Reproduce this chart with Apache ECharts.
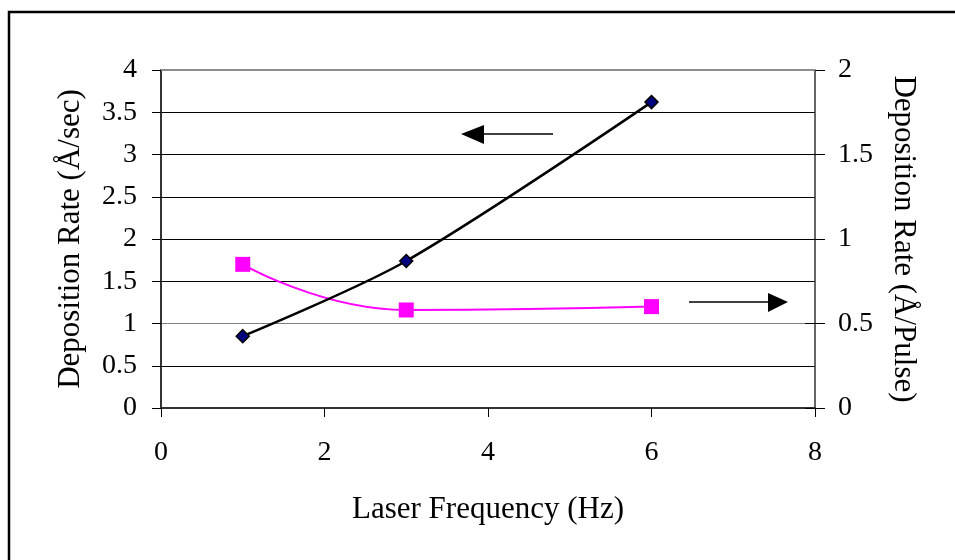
<!DOCTYPE html>
<html>
<head>
<meta charset="utf-8">
<script src="https://cdn.jsdelivr.net/npm/echarts@6/dist/echarts.min.js"></script>
<style>
  html, body { margin: 0; padding: 0; background: #fff; }
  #chart { width: 955px; height: 560px; }
</style>
</head>
<body>
<div id="chart"></div>
<script>
// Laser frequency (Hz) for each measurement
const frequency = [1, 3, 6];
// Deposition rate per second (left axis, Å/sec)
const ratePerSec = [0.85, 1.74, 3.62];
// Deposition rate per pulse (right axis, Å/Pulse)
const ratePerPulse = [0.85, 0.58, 0.6];

const FONT = '"Liberation Serif", "Times New Roman", serif';
const TICK_SIZE = 28;
const TITLE_SIZE = 31;
const chart = echarts.init(document.getElementById('chart'), null, { renderer: 'canvas' });

const leftGridColors = ['#000', '#000', '#808080', '#000', '#000', '#000', '#000', '#000', '#808080'];

chart.setOption({
  animation: false,
  backgroundColor: '#fff',
  grid: { left: 161, right: 140, top: 70, bottom: 152, containLabel: false },
  xAxis: {
    type: 'value', min: 0, max: 8, interval: 2,
    name: 'Laser Frequency (Hz)', nameLocation: 'middle', nameGap: 86,
    nameTextStyle: { fontFamily: FONT, fontSize: TITLE_SIZE, color: '#000' },
    axisLine: { onZero: false, lineStyle: { color: '#333', width: 2 } },
    axisTick: { show: true, length: 9, lineStyle: { color: '#000', width: 1 } },
    axisLabel: { margin: 31, fontFamily: FONT, fontSize: TICK_SIZE, color: '#000' },
    splitLine: { show: false }
  },
  yAxis: [
    {
      type: 'value', min: 0, max: 4, interval: 0.5, position: 'left',
      name: 'Deposition Rate (Å/sec)', nameLocation: 'middle', nameGap: 75, nameRotate: 90,
      nameTextStyle: { fontFamily: FONT, fontSize: TITLE_SIZE, color: '#000' },
      axisLine: { show: true, lineStyle: { color: '#333', width: 2 } },
      axisTick: { show: true, length: 9, lineStyle: { color: '#000', width: 1 } },
      axisLabel: { margin: 24, fontFamily: FONT, fontSize: TICK_SIZE, color: '#000' },
      splitLine: { show: true, lineStyle: { color: leftGridColors, width: 1.2 } }
    },
    {
      type: 'value', min: 0, max: 2, interval: 0.5, position: 'right',
      name: 'Deposition Rate (Å/Pulse)', nameLocation: 'middle', nameGap: 73, nameRotate: -90,
      nameTextStyle: { fontFamily: FONT, fontSize: TITLE_SIZE, color: '#000' },
      axisLine: { show: true, lineStyle: { color: '#333', width: 1.5 } },
      axisTick: { show: true, length: 10, lineStyle: { color: '#000', width: 1 } },
      axisLabel: { margin: 23, fontFamily: FONT, fontSize: TICK_SIZE, color: '#000' },
      splitLine: { show: false }
    },
    {
      // inner half of the crossing ticks on the right axis
      type: 'value', min: 0, max: 2, interval: 0.5, position: 'right',
      axisLine: { show: false },
      axisTick: { show: true, inside: true, length: 10, lineStyle: { color: '#000', width: 1 } },
      axisLabel: { show: false },
      splitLine: { show: false }
    }
  ],
  series: [
    {
      type: 'line', yAxisIndex: 1, smooth: 0.5,
      data: frequency.map((f, i) => [f, ratePerPulse[i]]),
      symbol: 'rect', symbolSize: 15,
      itemStyle: { color: '#ff00ff', borderWidth: 0 },
      lineStyle: { color: '#ff00ff', width: 2 },
      z: 3
    },
    {
      type: 'line', yAxisIndex: 0, smooth: 0.3,
      data: frequency.map((f, i) => [f, ratePerSec[i]]),
      symbol: 'diamond', symbolSize: 13,
      itemStyle: { color: '#000080', borderColor: '#000', borderWidth: 1.5 },
      lineStyle: { color: '#000', width: 2.5 },
      z: 4
    }
  ],
  graphic: [
    // outer frame
    { type: 'polyline', shape: { points: [[9, 560], [9, 12], [955, 12]] },
      style: { stroke: '#000', lineWidth: 2.5, fill: null }, silent: true },
    // top edge of the plot area
    { type: 'line', shape: { x1: 161, y1: 70, x2: 815, y2: 70 },
      style: { stroke: '#8c8c8c', lineWidth: 2 }, z: 10, silent: true },
    // arrow pointing at the left axis
    { type: 'line', shape: { x1: 480, y1: 134, x2: 553, y2: 134 },
      style: { stroke: '#000', lineWidth: 1.5 }, silent: true },
    { type: 'polygon', shape: { points: [[461, 134], [484, 125], [484, 144]] },
      style: { fill: '#000' }, silent: true },
    // arrow pointing at the right axis
    { type: 'line', shape: { x1: 689, y1: 302, x2: 770, y2: 302 },
      style: { stroke: '#000', lineWidth: 1.5 }, silent: true },
    { type: 'polygon', shape: { points: [[788, 302], [768, 293], [768, 312]] },
      style: { fill: '#000' }, silent: true }
  ]
});
</script>
</body>
</html>
